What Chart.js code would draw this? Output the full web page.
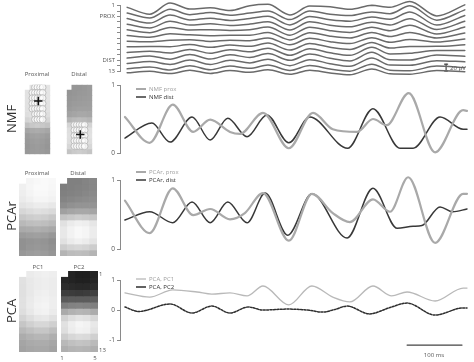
<!DOCTYPE html>
<html><head><meta charset="utf-8">
<script src="https://cdn.jsdelivr.net/npm/chart.js@4.4.1/dist/chart.umd.min.js"></script>
<style>
html,body{margin:0;padding:0;background:#fff;}
#wrap{position:relative;width:474px;height:362px;overflow:hidden;font-family:'Open Sans',sans-serif;background:#fff;}
canvas{position:absolute;}
.t{position:absolute;white-space:nowrap;color:#555;font-size:6px;line-height:1;transform:translate(-50%,-50%);}
.l{position:absolute;white-space:nowrap;color:#555;font-size:6px;line-height:1;transform:translate(0,-50%);}
.big{position:absolute;font-size:13px;color:#333;line-height:1;white-space:nowrap;transform:translate(-50%,-50%) rotate(-90deg);}
</style></head><body><div id="wrap"></div>
<script>
// ---------- DATA ----------
// time axis in ms
const traceT = [4,45,82,118,155,191,227,260,300,336,373,409,449,482,518,567,618];
// 13 electrode traces, plotted on channel axis (1 = proximal, 13 = distal)
const trace1  = [1.32,2.59,0.52,1.64,1.41,1.90,1.01,0.77,2.71,1.09,1.22,1.68,0.94,1.29,0.24,2.89,0.86];
const trace2  = [2.37,3.28,1.67,2.67,2.25,2.77,2.37,1.99,3.57,2.00,2.58,2.83,2.16,2.48,1.05,3.67,1.78];
const trace3  = [3.38,4.21,2.74,3.63,3.30,3.73,3.37,2.97,4.54,2.99,3.59,3.86,3.11,3.51,2.16,4.58,2.81];
const trace4  = [4.41,5.09,3.88,4.55,4.35,4.63,4.39,3.96,5.47,3.97,4.60,4.90,4.04,4.56,3.39,5.39,3.88];
const trace5  = [5.45,5.97,5.00,5.46,5.42,5.55,5.41,4.93,6.42,4.96,5.60,5.93,4.99,5.62,4.62,6.21,4.93];
const trace6  = [6.48,6.80,6.18,6.37,6.51,6.44,6.44,5.93,7.30,5.97,6.62,6.95,5.93,6.67,5.92,6.94,6.03];
const trace7  = [7.52,7.65,7.37,7.27,7.58,7.34,7.45,6.93,8.18,6.99,7.62,7.97,6.88,7.73,7.23,7.69,7.13];
const trace8  = [8.56,8.51,8.53,8.16,8.66,8.23,8.48,7.88,9.15,7.95,8.65,9.05,7.76,8.80,8.49,8.48,8.20];
const trace9  = [9.60,9.37,9.69,9.04,9.76,9.11,9.49,8.82,10.12,8.90,9.66,10.12,8.65,9.88,9.76,9.25,9.25];
const trace10 = [10.63,10.25,10.83,9.96,10.81,10.02,10.52,9.81,11.05,9.89,10.67,11.16,9.58,10.94,10.98,10.06,10.31];
const trace11 = [11.62,11.27,11.80,10.99,11.80,11.04,11.51,10.83,12.02,10.92,11.66,12.14,10.62,11.91,11.94,11.10,11.32];
const trace12 = [12.60,12.25,12.80,12.03,12.76,12.09,12.51,11.92,12.91,12.00,12.63,13.04,11.74,12.86,12.94,12.09,12.37];
const trace13 = [13.33,13.05,13.47,12.86,13.45,12.91,13.24,12.78,13.59,12.84,13.35,13.68,12.63,13.52,13.58,12.92,13.12];
const channelTicks = {1:'1', 3:'PROX', 11:'DIST', 13:'13'};
const voltBarTime = 584, voltBarChannels = [11.75, 13.0];   // 20 µV

const nmfProxT = [0,45,87,124,155,191,209,251,298,342,378,422,451,476,516,564,615,622];
const nmfProxV = [0.53,0.15,0.71,0.31,0.49,0.31,0.28,0.59,0.07,0.59,0.35,0.31,0.50,0.41,0.88,0.01,0.63,0.62];
const nmfDistT = [0,49,82,122,155,187,222,258,298,336,405,451,500,524,573,615,622];
const nmfDistV = [0.22,0.44,0.16,0.53,0.19,0.51,0.24,0.56,0.15,0.53,0.07,0.65,0.07,0.07,0.53,0.35,0.35];

const pcarProxT = [0,45,87,124,155,191,218,251,298,340,378,409,451,482,515,564,615,622];
const pcarProxV = [0.70,0.23,0.88,0.49,0.58,0.43,0.52,0.81,0.12,0.80,0.52,0.39,0.72,0.54,1.04,0.09,0.80,0.80];
const pcarDistT = [0,45,87,122,155,187,222,255,296,340,404,451,495,524,540,573,596,622];
const pcarDistV = [0.42,0.54,0.38,0.68,0.38,0.68,0.38,0.81,0.20,0.80,0.16,0.88,0.30,0.33,0.34,0.61,0.54,0.58];

const pcaPc1T = [0,45,87,131,158,191,222,251,298,340,378,409,451,485,513,564,615,622];
const pcaPc1V = [0.57,0.43,0.67,0.60,0.53,0.57,0.47,0.80,0.17,0.80,0.43,0.27,0.80,0.47,0.60,0.30,0.73,0.73];
const pcaPc2T = [0,25,82,122,158,191,224,251,296,331,360,382,404,445,480,513,564,615,622];
const pcaPc2V = [0.10,-0.05,0.20,-0.10,0.13,-0.10,0.10,0.0,0.03,0.0,-0.07,0.02,0.13,-0.13,0.07,0.23,-0.17,0.07,0.07];
const timeBarMs = [513, 613], timeBarLevel = -1.17;   // 100 ms

// heat maps: 13 rows (1 = top) x 5 columns, grey level 0-255, null = no electrode
const nmfProxMap = [
 [null,228,230,230,228],[226,230,232,232,228],[226,230,233,232,228],[225,230,232,230,226],
 [224,228,230,228,225],[222,226,228,226,222],[212,218,222,220,214],[192,200,204,200,195],
 [165,170,172,170,166],[155,160,162,160,156],[152,156,158,156,152],[150,154,156,154,150],[152,155,156,155,152]];
const nmfDistMap = [
 [null,150,150,152,155],[148,150,152,153,155],[150,152,154,155,156],[152,155,156,157,158],
 [155,158,160,160,160],[162,165,168,168,166],[180,185,188,186,182],[212,218,222,218,212],
 [222,228,232,228,224],[224,230,234,230,226],[222,228,232,228,222],[215,222,226,222,215],[195,202,205,202,196]];
const pcarProxMap = [
 [null,245,248,250,248],[240,246,250,250,247],[238,244,248,248,245],[235,240,245,245,242],
 [228,232,236,236,232],[215,220,224,222,218],[200,205,208,206,200],[185,190,192,190,185],
 [170,172,175,172,168],[155,158,160,158,152],[145,148,150,148,142],[145,150,152,150,145],[152,156,158,156,150]];
const pcarDistMap = [
 [null,128,128,132,135],[125,128,130,132,135],[128,130,132,135,138],[132,135,138,140,142],
 [140,145,148,148,148],[160,165,168,168,165],[195,200,205,202,198],[225,235,240,238,230],
 [232,242,248,245,236],[232,242,248,245,236],[225,235,240,236,228],[205,212,215,212,205],[180,188,190,188,180]];
const pc1Map = [
 [null,235,238,240,238],[225,232,236,238,236],[224,232,236,238,236],[224,232,238,240,236],
 [225,234,240,242,238],[225,235,242,244,238],[222,232,240,242,235],[212,222,230,232,225],
 [198,208,215,215,208],[185,192,198,198,190],[172,178,182,182,175],[165,170,172,172,166],[162,166,168,168,162]];
const pc2Map = [
 [null,35,30,30,35],[38,35,32,32,38],[45,42,40,40,45],[62,60,58,60,65],
 [90,92,92,92,95],[125,130,132,130,128],[170,178,182,180,172],[210,222,228,225,215],
 [225,238,245,242,232],[222,236,242,240,228],[205,215,220,218,208],[185,192,196,194,186],[175,180,182,180,175]];

// electrodes shown as circles: rows and the columns present in each row
const nmfProxElecRows = [1,2,3,4,5,6,7];
const nmfProxElecCols = [[2,3,4,5],[1,2,3,4,5],[1,2,3,4,5],[1,2,3,4,5],[1,2,3,4,5],[2,3,4,5],[2,3,4,5]];
const nmfDistElecRows = [8,9,10,11,12];
const nmfDistElecCols = [[1,2,3,4,5],[1,2,3,4,5],[1,2,3,4,5],[1,2,3,4,5],[1,2,3,4,5]];
const nmfProxCentre = {row: 3.55, col: 3.3};
const nmfDistCentre = {row: 9.8, col: 3.3};

// ---------- RENDER ----------
Chart.defaults.font.family = "'Open Sans', sans-serif";
const wrap = document.getElementById('wrap');
const PROX = '#a9a9a9', DIST = '#383838', AX = '#8a8a8a';

function pts(t, v) { return t.map((x, i) => ({x, y: v[i]})); }
function addCanvas(x, y, w, h) {
  const c = document.createElement('canvas');
  c.width = w; c.height = h; c.style.left = x + 'px'; c.style.top = y + 'px';
  c.style.width = w + 'px'; c.style.height = h + 'px';
  wrap.appendChild(c); return c;
}
function text(cls, s, x, y, extra) {
  const d = document.createElement('div'); d.className = cls; d.textContent = s;
  d.style.left = x + 'px'; d.style.top = y + 'px';
  if (extra) Object.assign(d.style, extra);
  wrap.appendChild(d);
}

const legendShift = {
  id: 'legendShift',
  afterLayout(chart, args, o) {
    const lg = chart.legend;
    if (!lg || !o || o.dx === undefined) return;
    const w = lg.width, h = lg.height;
    lg.left = chart.chartArea.left + o.dx; lg.top = chart.chartArea.top + o.dy;
    lg.right = lg.left + w; lg.bottom = lg.top + h;
  }
};

function legendCfg() {
  return {
    display: true, position: 'chartArea', align: 'start',
    labels: {
      usePointStyle: true, pointStyle: 'line', pointStyleWidth: 10, boxHeight: 6,
      font: {size: 6}, padding: 2,
      filter: it => !it.text.startsWith('_'),
      generateLabels: chart => {
        const items = Chart.defaults.plugins.legend.labels.generateLabels(chart);
        items.forEach(it => { it.fontColor = chart.data.datasets[it.datasetIndex].legendColor || '#555'; });
        return items;
      }
    }
  };
}

function lineChart(box, pad, yScale, datasets, shift) {
  const c = addCanvas(box.x, box.y, box.w, box.h);
  return new Chart(c, {
    type: 'line',
    data: {datasets},
    options: {
      responsive: false, animation: false, devicePixelRatio: 1,
      layout: {padding: pad},
      elements: {point: {radius: 0}, line: {cubicInterpolationMode: 'monotone', borderCapStyle: 'round', borderJoinStyle: 'round'}},
      scales: {
        x: {type: 'linear', min: -9, max: 622, display: false},
        y: Object.assign({
          afterFit: s => { s.width = 30; },
          border: {color: AX, width: 1},
          grid: {drawOnChartArea: false, tickLength: 3, color: AX}
        }, yScale)
      },
      plugins: {legend: shift ? legendCfg() : {display: false}, tooltip: {enabled: false}, legendShift: shift || {}}
    },
    plugins: [legendShift]
  });
}

// --- traces panel ---
const traceList = [trace1,trace2,trace3,trace4,trace5,trace6,trace7,trace8,trace9,trace10,trace11,trace12,trace13];
const traceSets = traceList.map((v, i) => ({label: '_t' + (i + 1), data: pts(traceT, v), borderColor: '#6a6a6a', borderWidth: 1.5, clip: false}));
traceSets.push({label: '_volt', data: voltBarChannels.map(y => ({x: voltBarTime, y})), borderColor: '#444', borderWidth: 1.2,
  pointRadius: 2, pointStyle: 'line', pointBorderColor: '#444', pointBorderWidth: 1.2, clip: false, cubicInterpolationMode: 'default', tension: 0});
lineChart({x: 90, y: 0, w: 384, h: 80}, {left: 0, right: 7, top: 5, bottom: 9},
  {reverse: true, min: 1, max: 13,
   ticks: {stepSize: 1, autoSkip: false, font: {size: 6}, color: '#555', padding: 2, callback: v => channelTicks[v] || ''}},
  traceSets, null);

// --- NMF ---
lineChart({x: 90, y: 78, w: 384, h: 92}, {left: 0, right: 7, top: 7, bottom: 17},
  {min: 0, max: 1, ticks: {stepSize: 1, font: {size: 6.5}, color: '#555', padding: 2}},
  [
    {label: 'NMF prox', data: pts(nmfProxT, nmfProxV), borderColor: PROX, borderWidth: 2.2, legendColor: '#a0a0a0', clip: false},
    {label: 'NMF dist', data: pts(nmfDistT, nmfDistV), borderColor: DIST, borderWidth: 1.5, legendColor: '#333', clip: false}
  ], {dx: 14, dy: -1});

// --- PCAr ---
lineChart({x: 90, y: 160, w: 384, h: 100}, {left: 0, right: 7, top: 20, bottom: 11},
  {min: 0, max: 1, ticks: {stepSize: 1, font: {size: 6.5}, color: '#555', padding: 2}},
  [
    {label: 'PCAr, prox', data: pts(pcarProxT, pcarProxV), borderColor: PROX, borderWidth: 2.2, legendColor: '#a0a0a0', clip: false},
    {label: 'PCAr, dist', data: pts(pcarDistT, pcarDistV), borderColor: DIST, borderWidth: 1.5, legendColor: '#333', clip: false}
  ], {dx: 14, dy: -13});

// --- PCA ---
lineChart({x: 90, y: 262, w: 384, h: 100}, {left: 0, right: 7, top: 18, bottom: 22},
  {min: -1, max: 1, ticks: {stepSize: 1, font: {size: 6.5}, color: '#555', padding: 2}},
  [
    {label: 'PCA, PC1', data: pts(pcaPc1T, pcaPc1V), borderColor: '#b9b9b9', borderWidth: 1.3, legendColor: '#a0a0a0', clip: false},
    {label: 'PCA, PC2', data: pts(pcaPc2T, pcaPc2V), borderColor: '#2e2e2e', borderWidth: 1.5, borderDash: [2, 1.4], legendColor: '#333', clip: false},
    {label: '_time', data: timeBarMs.map(x => ({x, y: timeBarLevel})), borderColor: '#444', borderWidth: 1.1, tension: 0,
     cubicInterpolationMode: 'default', pointRadius: 3, pointStyle: 'line', pointRotation: 90, pointBorderColor: '#444', pointBorderWidth: 1.1, clip: false}
  ], {dx: 14, dy: -6});

// --- heat maps ---
function heatMap(box, grid, elecRows, elecCols, centre) {
  const c = addCanvas(box.x, box.y, box.w, box.h);
  const datasets = grid.map((row, ri) => ({
    type: 'bar', order: 1,
    data: row.map(g => g == null ? null : [ri + 0.5, ri + 1.5]),
    backgroundColor: row.map(g => g == null ? 'rgba(0,0,0,0)' : `rgb(${g},${g},${g})`),
    borderWidth: 0, grouped: false, barPercentage: 1, categoryPercentage: 1, xAxisID: 'x', yAxisID: 'y'
  }));
  if (elecRows) {
    const d = [];
    elecRows.forEach((r, i) => elecCols[i].forEach(col => d.push({x: col, y: r})));
    datasets.push({type: 'scatter', order: -1, data: d, xAxisID: 'xc', yAxisID: 'y', pointStyle: 'circle', pointRadius: 3.4,
      pointBackgroundColor: 'rgba(255,255,255,0.65)', pointBorderColor: '#b4b4b4', pointBorderWidth: 0.8});
  }
  if (centre) {
    datasets.push({type: 'scatter', order: -2, data: [{x: centre.col, y: centre.row}], xAxisID: 'xc', yAxisID: 'y',
      pointStyle: 'cross', pointRadius: 4.2, pointBorderColor: '#111', pointBorderWidth: 1.5});
  }
  new Chart(c, {
    type: 'bar',
    data: {labels: ['1','2','3','4','5'], datasets},
    options: {
      responsive: false, animation: false, devicePixelRatio: 1, layout: {padding: 0},
      scales: {
        x: {type: 'category', display: false, offset: true},
        xc: {type: 'linear', display: false, min: 0.5, max: 5.5},
        y: {type: 'linear', display: false, min: 0.5, max: 13.5, reverse: true}
      },
      plugins: {legend: {display: false}, tooltip: {enabled: false}}
    }
  });
}
heatMap({x: 19, y: 79, w: 37, h: 81}, nmfProxMap, nmfProxElecRows, nmfProxElecCols, nmfProxCentre);
heatMap({x: 61, y: 79, w: 37, h: 81}, nmfDistMap, nmfDistElecRows, nmfDistElecCols, nmfDistCentre);
heatMap({x: 19, y: 178, w: 37, h: 78}, pcarProxMap);
heatMap({x: 60, y: 178, w: 37, h: 78}, pcarDistMap);
heatMap({x: 19, y: 271, w: 38, h: 81}, pc1Map);
heatMap({x: 61, y: 271, w: 37, h: 81}, pc2Map);

// --- text ---
text('t', 'Proximal', 37, 74); text('t', 'Distal', 79, 74);
text('t', 'Proximal', 37, 173); text('t', 'Distal', 78, 173);
text('t', 'PC1', 38, 267); text('t', 'PC2', 79, 267);
text('l', '1', 99, 274); text('l', '13', 99, 350);
text('t', '1', 62, 358); text('t', '5', 95, 358);
text('big', 'NMF', 11, 119); text('big', 'PCAr', 11, 216); text('big', 'PCA', 11, 311);
text('l', '20 µV', 450, 68);
text('t', '100 ms', 434, 355);
</script></body></html>
